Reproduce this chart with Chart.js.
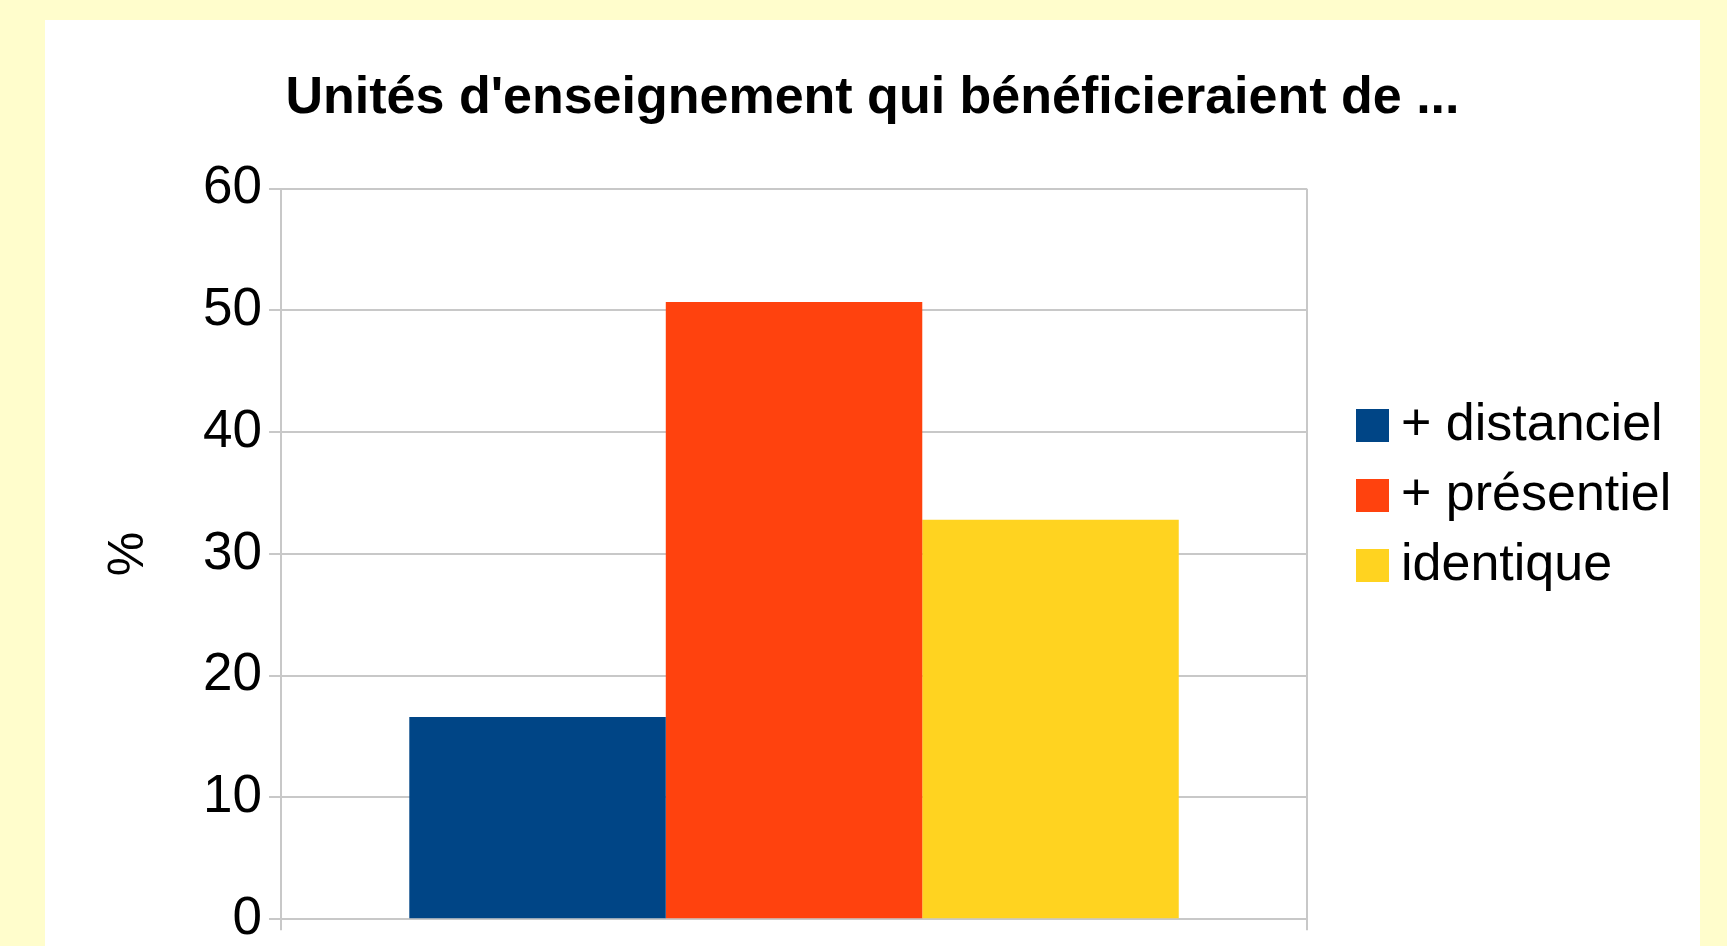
<!DOCTYPE html>
<html lang="fr">
<head>
<meta charset="utf-8">
<title>Unités d'enseignement</title>
<script src="https://cdn.jsdelivr.net/npm/chart.js@4/dist/chart.umd.min.js"></script>
<style>
  html, body { margin: 0; padding: 0; overflow: hidden; background: #fffdcc; }
  #panel { position: absolute; left: 45px; top: 20px; width: 1655px; height: 938px; background: #ffffff; }
</style>
</head>
<body>
<div id="panel"><canvas id="barChart"></canvas></div>
<script>
// données
const categories = [""];
const seriesNames = ["+ distanciel", "+ présentiel", "identique"];
const seriesValues = [16.6, 50.7, 32.8];
const seriesColors = ["#004586", "#ff420e", "#ffd320"];
const yMin = 0, yMax = 60, yStep = 10;

const gridColor = "#c8c8c8";
Chart.defaults.font.family = "'Liberation Sans', Arial, sans-serif";
Chart.defaults.color = "#000000";

// carrés de légende (dessinés comme pointStyle pour rapprocher le texte)
const swatches = seriesColors.map((c) => {
    const cv = document.createElement("canvas");
    cv.width = 33;
    cv.height = 33;
    const g = cv.getContext("2d");
    g.fillStyle = c;
    g.fillRect(0, 0, 33, 33);
    return cv;
});

const ctx = document.getElementById("barChart").getContext("2d");

new Chart(ctx, {
    type: "bar",
    data: {
        labels: categories,
        datasets: seriesNames.map((name, i) => ({
            label: name,
            data: [seriesValues[i]],
            backgroundColor: seriesColors[i],
            borderWidth: 0,
            categoryPercentage: 0.75,
            barPercentage: 1.0,
        })),
    },
    options: {
        responsive: true,
        maintainAspectRatio: false,
        animation: false,
        layout: { padding: { left: 25, right: 25, top: 0, bottom: 0 } },
        plugins: {
            tooltip: { enabled: false },
            title: {
                display: true,
                text: "Unités d'enseignement qui bénéficieraient de ...",
                font: { size: 52, weight: "bold" },
                color: "#000000",
                padding: { top: 47, bottom: 59.3 },
            },
            legend: {
                position: "right",
                align: "start",
                fullSize: false,
                maxWidth: 323,
                title: { display: true, text: " ", font: { size: 10 }, padding: { top: 181, bottom: 0 } },
                labels: {
                    usePointStyle: true,
                    pointStyleWidth: 5,
                    boxHeight: 33,
                    padding: 18,
                    font: { size: 52 },
                    color: "#000000",
                    generateLabels: (chart) =>
                        Chart.defaults.plugins.legend.labels.generateLabels(chart).map((item, i) => ({
                            ...item,
                            pointStyle: swatches[i],
                        })),
                },
            },
        },
        scales: {
            x: {
                grid: { display: true, color: gridColor, lineWidth: 2, tickLength: 11, offset: true },
                border: { display: true, color: gridColor, width: 2 },
                ticks: { display: false },
            },
            y: {
                min: yMin,
                max: yMax,
                ticks: { stepSize: yStep, padding: 7, font: { size: 53 }, color: "#000000" },
                grid: { color: gridColor, lineWidth: 2, tickLength: 12 },
                border: { display: true, color: gridColor, width: 2 },
                title: {
                    display: true,
                    text: "%",
                    font: { size: 50 },
                    color: "#000000",
                    padding: { top: 29, bottom: 37.1 },
                },
            },
            // axe vide : espace entre le graphique et la légende
            gap: {
                type: "linear",
                position: "right",
                display: true,
                ticks: { display: false },
                grid: { display: false },
                border: { display: false },
                afterFit: (scale) => { scale.width = 45; },
            },
        },
    },
});
</script>
</body>
</html>
